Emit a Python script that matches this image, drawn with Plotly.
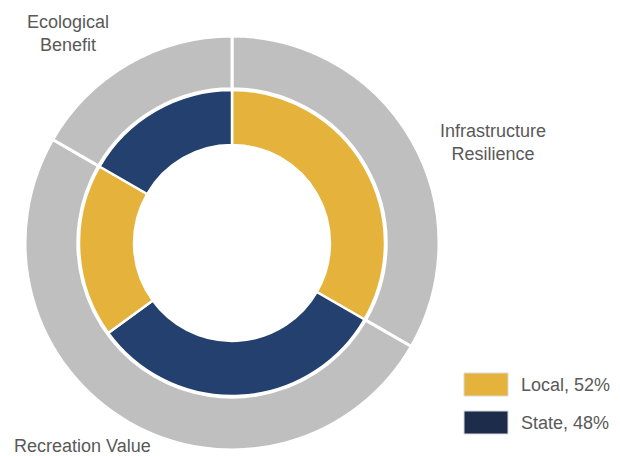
import plotly.graph_objects as go

# outer ring: benefit categories
outer_labels = ["Infrastructure Resilience", "Recreation Value", "Ecological Benefit"]
outer_values = [20, 30, 10]

# inner ring: funding source split
inner_labels = ["Local (a)", "State (a)", "Local (b)", "State (b)"]
inner_values = [20, 19, 11, 10]
inner_colors = ["#E5B33B", "#24406E", "#E5B33B", "#24406E"]

legend_labels = ["Local, 52%", "State, 48%"]
legend_colors = ["#E5B33B", "#1E2C4C"]

W, H = 620, 456
OFF = 8                    # page body margin
cx, cy = 232, 243          # chart centre in screen px
r_out, r_in = 207, 153

def px(x, y):
    return (x - OFF) / W, 1 - (y - OFF) / H

def dom(r):
    x0, y1 = px(cx - r, cy - r)
    x1, y0 = px(cx + r, cy + r)
    return dict(x=[x0, x1], y=[y0, y1])

fig = go.Figure()
fig.add_trace(go.Pie(
    labels=outer_labels, values=outer_values, sort=False,
    direction="clockwise", rotation=0, hole=0.745,
    marker=dict(colors=["#BFBFBF"] * 3, line=dict(color="white", width=3)),
    textinfo="none", domain=dom(r_out), showlegend=False,
))
fig.add_trace(go.Pie(
    labels=inner_labels, values=inner_values, sort=False,
    direction="clockwise", rotation=0, hole=0.64,
    marker=dict(colors=inner_colors, line=dict(color="white", width=2.5)),
    textinfo="none", domain=dom(r_in), showlegend=False,
))

font = dict(family="Liberation Sans, Arial, sans-serif", size=18, color="#595959")

def label(x, y, text, xanchor="center"):
    ax, ay = px(x, y)
    fig.add_annotation(x=ax, y=ay, text=text, xref="paper", yref="paper",
                       xanchor=xanchor, yanchor="middle", showarrow=False,
                       font=font, align="center")

# category labels
label(68, 33, "Ecological<br>Benefit")
label(493, 142, "Infrastructure<br>Resilience")
label(82, 446, "Recreation Value")

# legend
for i, (lab, col) in enumerate(zip(legend_labels, legend_colors)):
    y0 = 373 + i * 38
    x0, y1 = px(464, y0)
    x1, yb = px(508, y0 + 23)
    fig.add_shape(type="rect", xref="paper", yref="paper",
                  x0=x0, x1=x1, y0=yb, y1=y1,
                  fillcolor=col, line=dict(color="#D9D9D9", width=1))
    label(519, y0 + 12, lab, xanchor="left")

fig.update_layout(width=W, height=H, margin=dict(l=0, r=0, t=0, b=0),
                  paper_bgcolor="white", plot_bgcolor="white")
fig.write_html("out.html")
